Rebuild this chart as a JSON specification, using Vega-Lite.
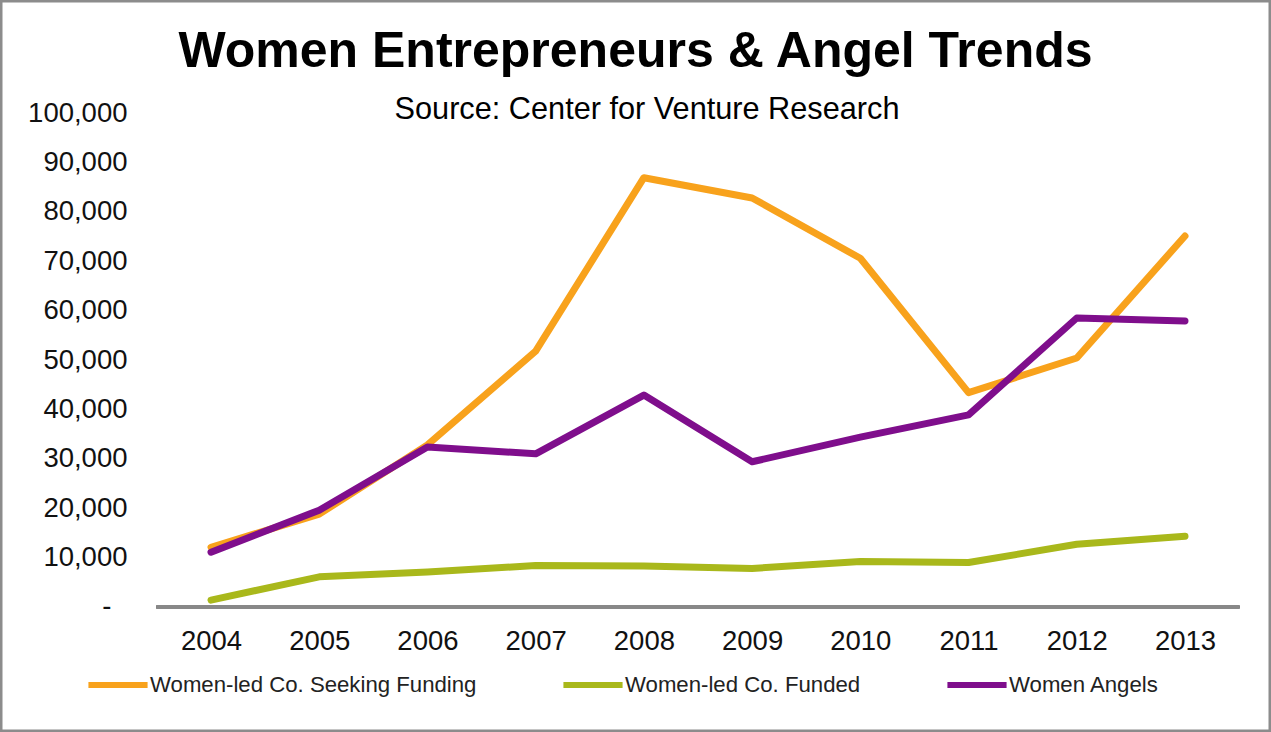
{
  "$schema": "https://vega.github.io/schema/vega-lite/v6.json",
  "width": 1271,
  "height": 732,
  "autosize": {"type": "none"},
  "padding": 0,
  "background": "white",
  "config": {
    "view": {"stroke": "#8c8c8c", "strokeWidth": 5},
    "font": "Liberation Sans"
  },
  "title": {
    "text": "Women Entrepreneurs & Angel Trends",
    "subtitle": "\u2800Source: Center for Venture Research",
    "font": "Liberation Sans",
    "subtitleFont": "Liberation Sans",
    "fontSize": 50,
    "fontWeight": "bold",
    "subtitleFontSize": 30.7,
    "color": "#000000",
    "subtitleColor": "#000000",
    "anchor": "middle",
    "frame": "group",
    "offset": -125,
    "subtitlePadding": 18
  },
  "data": {
    "values": [
      {"year": 2004, "series": "Women-led Co. Seeking Funding", "value": 12100},
      {"year": 2005, "series": "Women-led Co. Seeking Funding", "value": 18800},
      {"year": 2006, "series": "Women-led Co. Seeking Funding", "value": 32800},
      {"year": 2007, "series": "Women-led Co. Seeking Funding", "value": 51800},
      {"year": 2008, "series": "Women-led Co. Seeking Funding", "value": 86900},
      {"year": 2009, "series": "Women-led Co. Seeking Funding", "value": 82800},
      {"year": 2010, "series": "Women-led Co. Seeking Funding", "value": 70600},
      {"year": 2011, "series": "Women-led Co. Seeking Funding", "value": 43400},
      {"year": 2012, "series": "Women-led Co. Seeking Funding", "value": 50400},
      {"year": 2013, "series": "Women-led Co. Seeking Funding", "value": 75100},
      {"year": 2004, "series": "Women-led Co. Funded", "value": 1400},
      {"year": 2005, "series": "Women-led Co. Funded", "value": 6100},
      {"year": 2006, "series": "Women-led Co. Funded", "value": 7100},
      {"year": 2007, "series": "Women-led Co. Funded", "value": 8400},
      {"year": 2008, "series": "Women-led Co. Funded", "value": 8300},
      {"year": 2009, "series": "Women-led Co. Funded", "value": 7800},
      {"year": 2010, "series": "Women-led Co. Funded", "value": 9200},
      {"year": 2011, "series": "Women-led Co. Funded", "value": 9000},
      {"year": 2012, "series": "Women-led Co. Funded", "value": 12700},
      {"year": 2013, "series": "Women-led Co. Funded", "value": 14300},
      {"year": 2004, "series": "Women Angels", "value": 11100},
      {"year": 2005, "series": "Women Angels", "value": 19600},
      {"year": 2006, "series": "Women Angels", "value": 32400},
      {"year": 2007, "series": "Women Angels", "value": 31000},
      {"year": 2008, "series": "Women Angels", "value": 42900},
      {"year": 2009, "series": "Women Angels", "value": 29400},
      {"year": 2010, "series": "Women Angels", "value": 34400},
      {"year": 2011, "series": "Women Angels", "value": 38900},
      {"year": 2012, "series": "Women Angels", "value": 58500},
      {"year": 2013, "series": "Women Angels", "value": 57900}
    ]
  },
  "layer": [
    {
      "mark": {"type": "rule", "color": "#888888", "strokeWidth": 3},
      "encoding": {
        "x": {"datum": 2003.5, "type": "quantitative", "scale": {"domain": [2002.0503, 2013.7947], "nice": false, "zero": false}},
        "x2": {"datum": 2013.5},
        "y": {"datum": 0, "type": "quantitative", "scale": {"domain": [-25304, 122875], "nice": false, "zero": false}}
      }
    },
    {
      "mark": {"type": "line", "strokeWidth": 7, "strokeCap": "round", "strokeJoin": "round"},
      "encoding": {
        "x": {
          "field": "year",
          "type": "quantitative",
          "scale": {"domain": [2002.0503, 2013.7947], "nice": false, "zero": false},
          "axis": {
            "orient": "bottom",
            "offset": -126,
            "values": [2004, 2005, 2006, 2007, 2008, 2009, 2010, 2011, 2012, 2013],
            "format": "d",
            "ticks": false,
            "tickSize": 0,
            "domain": false,
            "grid": false,
            "labelPadding": 21,
            "labelFontSize": 27.5,
            "labelFont": "Liberation Sans",
            "labelColor": "#111111",
            "labelOverlap": false,
            "title": null
          }
        },
        "y": {
          "field": "value",
          "type": "quantitative",
          "scale": {"domain": [-25304, 122875], "nice": false, "zero": false},
          "axis": {
            "orient": "left",
            "offset": -127,
            "values": [0, 10000, 20000, 30000, 40000, 50000, 60000, 70000, 80000, 90000, 100000],
            "labelExpr": "datum.value === 0 ? '-' : format(datum.value, ',')",
            "ticks": false,
            "tickSize": 0,
            "domain": false,
            "grid": false,
            "labelPadding": {"condition": {"test": "datum.value === 0", "value": 16}, "value": 0},
            "labelFontSize": 27.5,
            "labelFont": "Liberation Sans",
            "labelColor": "#111111",
            "labelOverlap": false,
            "title": null
          }
        },
        "color": {
          "field": "series",
          "type": "nominal",
          "scale": {
            "domain": ["Women-led Co. Seeking Funding", "Women-led Co. Funded", "Women Angels"],
            "range": ["#F8A21C", "#A9B81B", "#7F0E8C"]
          },
          "legend": {
            "orient": "none",
            "legendX": 85,
            "legendY": 652,
            "direction": "horizontal",
            "title": null,
            "symbolType": "stroke",
            "symbolSize": 3500,
            "symbolStrokeWidth": 6,
            "labelFontSize": 22.2,
            "labelFont": "Liberation Sans",
            "labelColor": "#222222",
            "labelOffset": -1,
            "labelLimit": 500,
            "columnPadding": 74,
            "padding": 0
          }
        }
      }
    }
  ]
}
